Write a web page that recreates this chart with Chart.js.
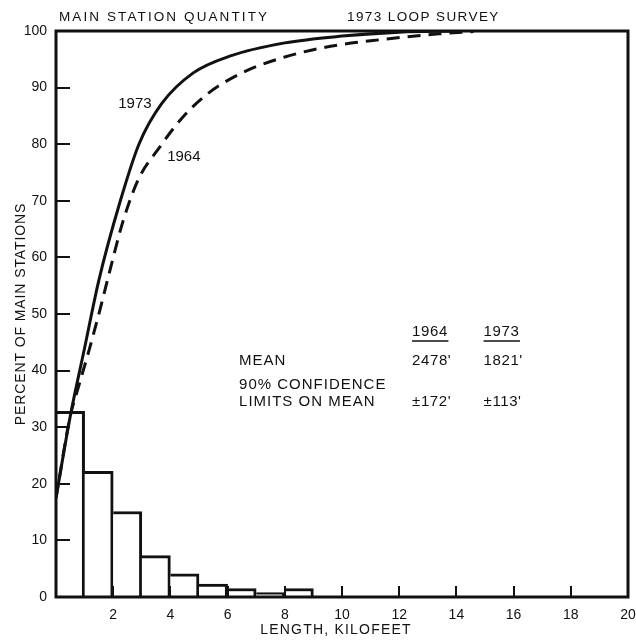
<!DOCTYPE html>
<html>
<head>
<meta charset="utf-8">
<script src="https://cdn.jsdelivr.net/npm/chart.js@4.4.1/dist/chart.umd.min.js"></script>
<style>
  html, body { margin: 0; padding: 0; background: #fff; }
  #wrap { width: 636px; height: 640px; }
</style>
</head>
<body>
<div id="wrap"><canvas id="c" width="636" height="640"></canvas></div>
<script>
// Histogram: share of main stations per 1-kilofoot length bin (1973 survey)
const binStartKft = [0, 1, 2, 3, 4, 5, 6, 7, 8];
const binSharePct = [32.8, 22.2, 15.1, 7.3, 4.1, 2.3, 1.5, 0.8, 1.5];

// Cumulative distributions of loop length
const cum1973Kft = [0, 0.5, 1, 1.5, 2.25, 2.9, 3.7, 4.8, 6.1, 8, 10, 12, 14];
const cum1973Pct = [17.5, 32, 44, 56, 70, 80, 87.2, 92.6, 95.6, 97.9, 99.1, 99.8, 100];
const cum1964Kft = [0, 0.5, 0.75, 1.15, 1.55, 1.8, 2.35, 2.9, 3.6, 4.4, 5.3, 6.5, 8, 9.6, 11.4, 13.4, 14.6];
const cum1964Pct = [17.5, 32, 36.5, 43.5, 51, 56, 66.5, 74, 79.3, 84.6, 88.9, 92.6, 95.4, 97.3, 98.5, 99.5, 99.9];

// Axis ranges and tick steps
const xRange = [0, 20];
const xStep = 2;
const yRange = [0, 100];
const yStep = 10;

// Summary table
const summaryYears = ['1964', '1973'];
const meanFeet = ["2478'", "1821'"];
const limitFeet = ["\u00b1172'", "\u00b1113'"];

const FONT = '"Liberation Sans", Arial, sans-serif';
const INK = '#111';

const histPoints = binStartKft.map((s, i) => ({ x: s + 0.5, y: binSharePct[i] }));
const pts = (xs, ys) => xs.map((x, i) => ({ x, y: ys[i] }));

function spacedText(ctx, text, x, y, spacing) {
  ctx.save();
  ctx.letterSpacing = spacing + 'px';
  ctx.fillText(text, x, y);
  ctx.restore();
}

const decorations = {
  id: 'decorations',
  afterDatasetsDraw(chart) {
    const { ctx, chartArea: a, scales: { x, y } } = chart;
    ctx.save();
    ctx.strokeStyle = INK;
    ctx.fillStyle = INK;

    // inward tick marks
    ctx.lineWidth = 2;
    for (let v = yRange[0] + yStep; v < yRange[1]; v += yStep) {
      const py = Math.round(y.getPixelForValue(v));
      ctx.beginPath(); ctx.moveTo(a.left, py); ctx.lineTo(a.left + 14, py); ctx.stroke();
    }
    for (let v = xRange[0] + xStep; v < xRange[1]; v += xStep) {
      const px = Math.round(x.getPixelForValue(v));
      ctx.beginPath(); ctx.moveTo(px, a.bottom); ctx.lineTo(px, a.bottom - 11); ctx.stroke();
    }

    // frame
    ctx.lineWidth = 3;
    ctx.strokeRect(a.left, a.top, a.right - a.left, a.bottom - a.top);

    // headings above the frame
    ctx.font = '13.5px ' + FONT;
    ctx.textBaseline = 'middle';
    ctx.textAlign = 'left';
    spacedText(ctx, 'MAIN STATION QUANTITY', 59, 17, 2.1);
    spacedText(ctx, '1973 LOOP SURVEY', 347, 17, 1.4);

    // axis titles
    ctx.font = '14px ' + FONT;
    ctx.textAlign = 'center';
    ctx.save();
    ctx.translate(21, (a.top + a.bottom) / 2);
    ctx.rotate(-Math.PI / 2);
    spacedText(ctx, 'PERCENT OF MAIN STATIONS', 0, 0, 0.9);
    ctx.restore();
    spacedText(ctx, 'LENGTH, KILOFEET', (a.left + a.right) / 2 - 6, 630, 1.2);

    // curve labels
    ctx.font = '15px ' + FONT;
    ctx.textAlign = 'center';
    ctx.fillText('1973', x.getPixelForValue(2.76), y.getPixelForValue(87.2));
    ctx.fillText('1964', x.getPixelForValue(4.47), y.getPixelForValue(77.7));

    // summary table
    ctx.textAlign = 'left';
    const colX = [x.getPixelForValue(12.45), x.getPixelForValue(14.95)];
    const rowLabelX = x.getPixelForValue(6.4);
    const headY = y.getPixelForValue(46.8);
    ctx.lineWidth = 1.5;
    summaryYears.forEach((yr, i) => {
      spacedText(ctx, yr, colX[i], headY, 0.6);
      const w = ctx.measureText(yr).width + 3;
      ctx.beginPath();
      ctx.moveTo(colX[i], headY + 9); ctx.lineTo(colX[i] + w, headY + 9);
      ctx.stroke();
    });
    const meanY = y.getPixelForValue(41.7);
    spacedText(ctx, 'MEAN', rowLabelX, meanY, 1);
    meanFeet.forEach((t, i) => spacedText(ctx, t, colX[i], meanY, 0.6));
    spacedText(ctx, '90% CONFIDENCE', rowLabelX, y.getPixelForValue(37.5), 1);
    const limY = y.getPixelForValue(34.4);
    spacedText(ctx, 'LIMITS ON MEAN', rowLabelX, limY, 1);
    limitFeet.forEach((t, i) => spacedText(ctx, t, colX[i], limY, 0.6));

    ctx.restore();
  }
};

new Chart(document.getElementById('c'), {
  type: 'bar',
  data: {
    datasets: [
      {
        type: 'line',
        label: '1973',
        data: pts(cum1973Kft, cum1973Pct),
        borderColor: INK,
        borderWidth: 3,
        pointRadius: 0,
        cubicInterpolationMode: 'monotone',
        fill: false,
        order: 1
      },
      {
        type: 'line',
        label: '1964',
        data: pts(cum1964Kft, cum1964Pct),
        borderColor: INK,
        borderWidth: 3,
        borderDash: [13, 8],
        pointRadius: 0,
        cubicInterpolationMode: 'monotone',
        fill: false,
        order: 2
      },
      {
        type: 'bar',
        label: 'share',
        data: histPoints,
        backgroundColor: '#fff',
        borderColor: INK,
        borderWidth: { top: 3, right: 3, left: 0, bottom: 0 },
        borderSkipped: false,
        barPercentage: 1,
        categoryPercentage: 1,
        order: 3
      }
    ]
  },
  options: {
    responsive: false,
    animation: false,
    events: [],
    layout: { padding: { top: 31, right: 8, left: 0, bottom: 0 } },
    plugins: { legend: { display: false }, tooltip: { enabled: false }, title: { display: false } },
    scales: {
      x: {
        type: 'linear',
        min: xRange[0], max: xRange[1],
        offset: false,
        grid: { display: false, drawTicks: false, offset: false },
        border: { display: false },
        ticks: {
          stepSize: xStep,
          padding: 10,
          color: INK,
          font: { family: FONT, size: 14 },
          maxRotation: 0,
          callback: v => (v === 0 ? '' : String(v))
        },
        afterFit: s => { s.height = 43; s.paddingRight = 0; s.paddingLeft = 0; }
      },
      y: {
        min: yRange[0], max: yRange[1],
        grid: { display: false, drawTicks: false },
        border: { display: false },
        ticks: {
          stepSize: yStep,
          padding: 9,
          color: INK,
          font: { family: FONT, size: 14 }
        },
        afterFit: s => { s.width = 56; s.paddingTop = 0; s.paddingBottom = 0; }
      }
    }
  },
  plugins: [decorations]
});
</script>
</body>
</html>
